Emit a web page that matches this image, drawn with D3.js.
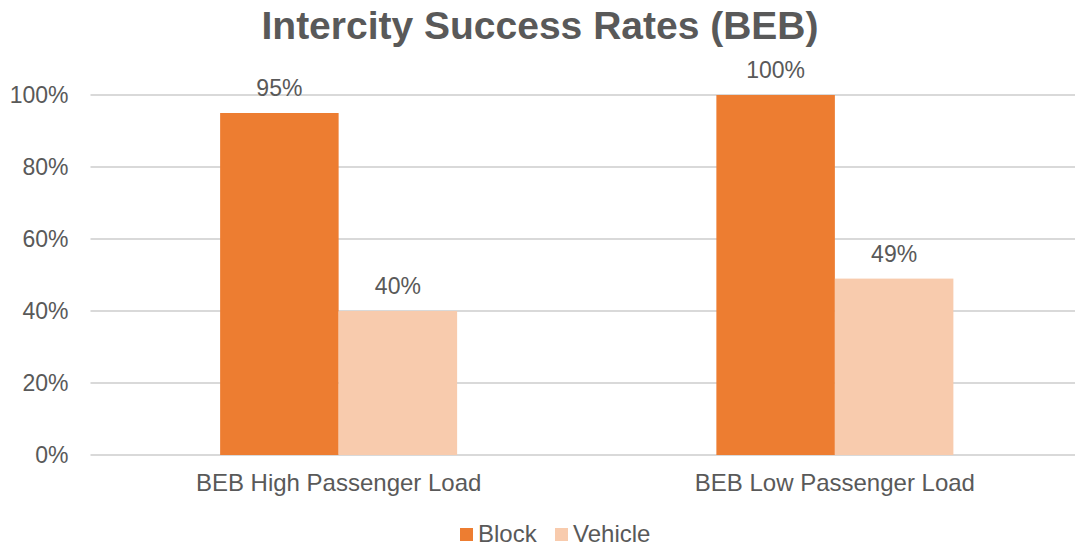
<!DOCTYPE html>
<html lang="en">
	<head>
		<meta charset="utf-8">
		<title>Intercity Success Rates (BEB)</title>
		<script type="text/javascript" src="https://cdn.jsdelivr.net/npm/d3@7"></script>
		<style type="text/css">
			body {
				margin: 0;
				background: #fff;
			}
			text {
				font-family: "Liberation Sans", Arial, sans-serif;
				fill: #595959;
			}
			.axis path {
				display: none;
			}
			.axis text {
				font-size: 24px;
			}
		</style>
	</head>
	<body>
		<script type="text/javascript">
			var categories = ["BEB High Passenger Load", "BEB Low Passenger Load"];
			var seriesNames = ["Block", "Vehicle"];
			var block = [0.95, 1.00];
			var vehicle = [0.40, 0.49];
			var yTicks = [0, 0.2, 0.4, 0.6, 0.8, 1.0];
			var colors = ["#ED7D31", "#F8CBAD"];

			var w = 1075;
			var h = 546;
			var plotLeft = 90.5, plotRight = 1083, plotTop = 95, plotBottom = 455;

			var svg = d3.select("body")
				.append("svg")
				.attr("width", w)
				.attr("height", h);

			var xScale = d3.scaleBand()
				.domain(categories)
				.range([plotLeft, plotRight]);

			var xInner = d3.scaleBand()
				.domain(seriesNames)
				.range([0, 237])
				.padding(0);

			var yScale = d3.scaleLinear()
				.domain([0, 1])
				.range([plotBottom, plotTop]);

			//Gridlines
			svg.append("g")
				.selectAll("line")
				.data(yTicks)
				.enter()
				.append("line")
				.attr("x1", plotLeft)
				.attr("x2", w)
				.attr("y1", function(d) { return yScale(d); })
				.attr("y2", function(d) { return yScale(d); })
				.attr("stroke", "#d9d9d9")
				.attr("stroke-width", 2);

			//Y axis
			var yAxis = d3.axisLeft(yScale)
				.tickValues(yTicks)
				.tickSize(0)
				.tickPadding(22)
				.tickFormat(d3.format(".0%"));

			svg.append("g")
				.attr("class", "y axis")
				.attr("transform", "translate(" + plotLeft + ",0)")
				.call(yAxis)
				.selectAll("text")
				.style("font-size", "23px");

			//Bars
			var data = categories.map(function(c, i) {
				return { cat: c, values: [block[i], vehicle[i]] };
			});

			var groups = svg.append("g")
				.selectAll("g")
				.data(data)
				.enter()
				.append("g")
				.attr("transform", function(d) {
					return "translate(" + (xScale(d.cat) + xScale.bandwidth() / 2 - 118.5) + ",0)";
				});

			groups.selectAll("rect")
				.data(function(d) { return d.values; })
				.enter()
				.append("rect")
				.attr("x", function(d, i) { return xInner(seriesNames[i]); })
				.attr("y", function(d) { return yScale(d); })
				.attr("width", xInner.bandwidth())
				.attr("height", function(d) { return plotBottom - yScale(d); })
				.attr("fill", function(d, i) { return colors[i]; });

			groups.selectAll("text")
				.data(function(d) { return d.values; })
				.enter()
				.append("text")
				.attr("x", function(d, i) { return xInner(seriesNames[i]) + xInner.bandwidth() / 2; })
				.attr("y", function(d) { return yScale(d) - 17; })
				.attr("text-anchor", "middle")
				.style("font-size", "23px")
				.text(function(d) { return d3.format(".0%")(d); });

			//X axis
			var xAxis = d3.axisBottom(xScale)
				.tickSize(0)
				.tickPadding(19);

			svg.append("g")
				.attr("class", "x axis")
				.attr("transform", "translate(0," + plotBottom + ")")
				.call(xAxis);

			//Title
			svg.append("text")
				.attr("x", 540)
				.attr("y", 39)
				.attr("text-anchor", "middle")
				.style("font-size", "39px")
				.style("font-weight", "bold")
				.text("Intercity Success Rates (BEB)");

			//Legend
			var legend = svg.append("g")
				.selectAll("g")
				.data(seriesNames)
				.enter()
				.append("g")
				.attr("transform", function(d, i) {
					return "translate(" + (460 + i * 95) + ",528)";
				});

			legend.append("rect")
				.attr("width", 13)
				.attr("height", 13)
				.attr("fill", function(d, i) { return colors[i]; });

			legend.append("text")
				.attr("x", 18)
				.attr("y", 14)
				.style("font-size", "24px")
				.text(function(d) { return d; });
		</script>
	</body>
</html>
